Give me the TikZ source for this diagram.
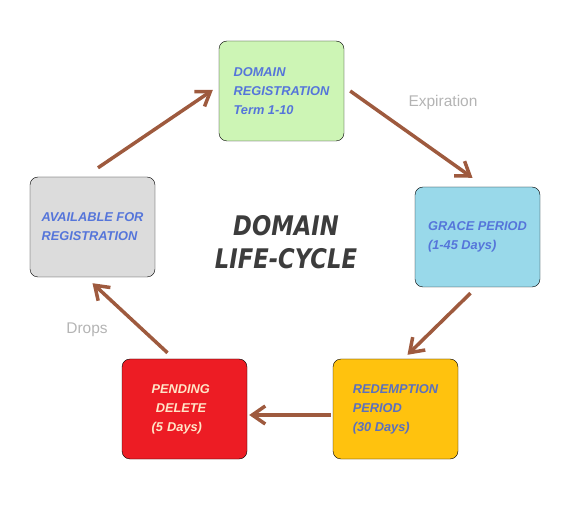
\documentclass[tikz,border=0pt]{standalone}
\usepackage{fontspec}
\usepackage{xcolor}
\usetikzlibrary{arrows.meta}
\newfontfamily\boxfont{Liberation Sans}
\newfontfamily\titlefont[FakeStretch=0.84]{DejaVu Sans}
\definecolor{regfill}{HTML}{CDF5B5}
\definecolor{gracefill}{HTML}{99D9EA}
\definecolor{redemfill}{HTML}{FFC20E}
\definecolor{pendfill}{HTML}{ED1C24}
\definecolor{availfill}{HTML}{DCDCDC}
\definecolor{boxtext}{HTML}{5575DA}
\definecolor{redemtext}{HTML}{5B70BE}
\definecolor{pendtext}{HTML}{FFE6C8}
\definecolor{flowcol}{HTML}{9E5A3E}
\definecolor{notecol}{HTML}{B4B4B4}
\definecolor{titlecol}{HTML}{3C3C3C}

\begin{document}
\begin{tikzpicture}[x=1pt,y=-1pt,
    stage/.style={
        draw,
        rounded corners=8pt,
        minimum width=125pt,
        minimum height=100pt,
        align=left,
        text=boxtext,
        font=\boxfont\bfseries\itshape\fontsize{12.8}{19}\selectfont
      },
    flow/.style={
        draw=flowcol,
        line width=3.5pt,
        -{Straight Barb[length=13pt,width=18pt]}
      },
    note/.style={text=notecol, font=\boxfont\fontsize{15.5}{18}\selectfont}]

    \useasboundingbox (0,0) rectangle (571,505);

    \node[stage,fill=regfill] (reg) at (281.5,91) {DOMAIN\\REGISTRATION\\Term 1-10};
    \node[stage,fill=gracefill] (grace) at (477.5,237) {GRACE PERIOD\\(1-45 Days)};
    \node[stage,fill=redemfill,text=redemtext] (redem) at (395.5,409) {REDEMPTION\\PERIOD\\(30 Days)};
    \node[stage,fill=pendfill,text=pendtext,text width=66pt] (pend) at (184.5,409) {PENDING\\\ DELETE\\(5 Days)};
    \node[stage,fill=availfill] (avail) at (92.5,227) {AVAILABLE FOR\\REGISTRATION};

    \node[align=center,text=titlecol,font=\titlefont\bfseries\itshape\fontsize{27}{33}\selectfont] (title) at (286,242.5) {DOMAIN\\LIFE-CYCLE};

    \node[note] (expire) at (443,102) {Expiration};
    \node[note] (drops) at (87,330) {Drops};

    \draw[flow] ([xshift=6pt]reg.east) -- ([xshift=-5pt,yshift=9pt]grace.north);
    \draw[flow] ([xshift=-7pt,yshift=-6pt]grace.south) -- ([xshift=12pt,yshift=4pt]redem.north);
    \draw[flow] ([xshift=-2pt,yshift=-6pt]redem.west) -- ([xshift=2pt,yshift=-6pt]pend.east);
    \draw[flow] ([xshift=-17pt,yshift=6pt]pend.north) -- ([yshift=-6pt]avail.south);
    \draw[flow] ([xshift=5.5pt,yshift=9pt]avail.north) -- ([xshift=-6pt,yshift=1pt]reg.west);
  \end{tikzpicture}
\end{document}
